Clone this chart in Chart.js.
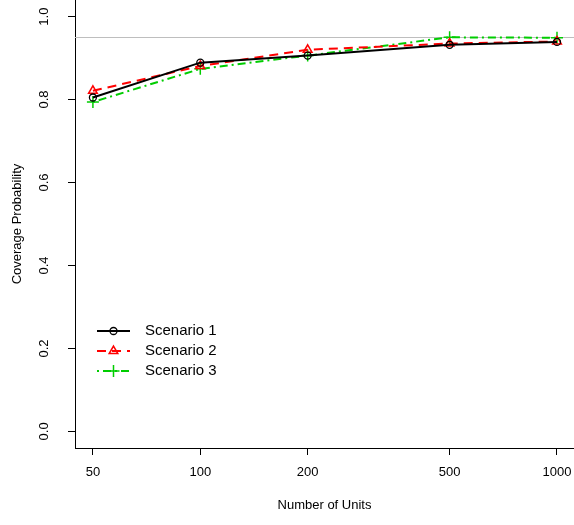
<!DOCTYPE html>
<html lang="en">
<head>
  <meta charset="UTF-8">
  <title>Coverage Probability by Number of Units</title>
  <script src="https://cdn.jsdelivr.net/npm/chart.js"></script>
  <style>
    body { margin: 0; background: #fff; }
  </style>
</head>
<body>
  <canvas id="coverage" width="574" height="525"></canvas>

  <script>
    const units = [50, 100, 200, 500, 1000];
    const scenario1 = [0.805, 0.889, 0.906, 0.932, 0.939];
    const scenario2 = [0.821, 0.881, 0.920, 0.935, 0.940];
    const scenario3 = [0.794, 0.874, 0.906, 0.950, 0.949];
    const yTicks = [0, 0.2, 0.4, 0.6, 0.8, 1.0];
    const nominal = 0.95;

    const FONT = "'Liberation Sans', Arial, sans-serif";

    const toPoints = vals => vals.map((v, i) => ({ x: units[i], y: v }));

    // gray reference line at the nominal level
    const nominalLine = {
      id: 'nominalLine',
      beforeDatasetsDraw(chart) {
        const { ctx, chartArea } = chart;
        const y = Math.round(chart.scales.y.getPixelForValue(nominal)) + 0.5;
        ctx.save();
        ctx.strokeStyle = '#bebebe';
        ctx.lineWidth = 1;
        ctx.beginPath();
        ctx.moveTo(chartArea.left, y);
        ctx.lineTo(chartArea.right, y);
        ctx.stroke();
        ctx.restore();
      }
    };

    // y tick labels, rotated like base R axis text
    const yLabels = {
      id: 'yLabels',
      afterDraw(chart) {
        const { ctx } = chart;
        const ys = chart.scales.y;
        ctx.save();
        ctx.fillStyle = '#000';
        ctx.font = '13px ' + FONT;
        ctx.textAlign = 'center';
        ctx.textBaseline = 'middle';
        yTicks.forEach(t => {
          ctx.save();
          ctx.translate(44, ys.getPixelForValue(t));
          ctx.rotate(-Math.PI / 2);
          ctx.fillText(t.toFixed(1), 0, 0);
          ctx.restore();
        });
        ctx.restore();
      }
    };

    // legend with line segment + marker, no box
    const lineLegend = {
      id: 'lineLegend',
      afterDraw(chart) {
        const { ctx } = chart;
        const x0 = 97, x1 = 130, tx = 145, top = 331, step = 20;
        chart.data.datasets.forEach((ds, i) => {
          const y = top + i * step;
          ctx.save();
          ctx.strokeStyle = ds.borderColor;
          ctx.lineWidth = ds.borderWidth;
          ctx.setLineDash(ds.borderDash || []);
          ctx.beginPath();
          ctx.moveTo(x0, y);
          ctx.lineTo(x1, y);
          ctx.stroke();
          ctx.setLineDash([]);
          ctx.strokeStyle = ds.pointBorderColor;
          ctx.fillStyle = ds.pointBackgroundColor;
          ctx.lineWidth = ds.pointBorderWidth;
          Chart.helpers.drawPoint(ctx, {
            pointStyle: ds.pointStyle,
            radius: ds.pointRadius,
            borderWidth: ds.pointBorderWidth,
            rotation: 0
          }, (x0 + x1) / 2, y);
          ctx.fillStyle = '#000';
          ctx.font = '15px ' + FONT;
          ctx.textAlign = 'left';
          ctx.textBaseline = 'middle';
          ctx.fillText(ds.label, tx, y);
          ctx.restore();
        });
      }
    };

    new Chart(document.getElementById('coverage'), {
      type: 'line',
      data: {
        datasets: [
          {
            label: 'Scenario 1',
            data: toPoints(scenario1),
            borderColor: '#000000',
            borderWidth: 2,
            pointStyle: 'circle',
            pointRadius: 3.5,
            pointBorderColor: '#000000',
            pointBackgroundColor: 'rgba(0,0,0,0)',
            pointBorderWidth: 1.3
          },
          {
            label: 'Scenario 2',
            data: toPoints(scenario2),
            borderColor: '#ff0000',
            borderWidth: 2,
            borderDash: [9, 6],
            pointStyle: 'triangle',
            pointRadius: 5,
            pointBorderColor: '#ff0000',
            pointBackgroundColor: 'rgba(0,0,0,0)',
            pointBorderWidth: 1.5
          },
          {
            label: 'Scenario 3',
            data: toPoints(scenario3),
            borderColor: '#00cd00',
            borderWidth: 2,
            borderDash: [2, 4, 8, 4],
            pointStyle: 'cross',
            pointRadius: 6,
            pointBorderColor: '#00cd00',
            pointBackgroundColor: 'rgba(0,0,0,0)',
            pointBorderWidth: 1.5
          }
        ]
      },
      options: {
        responsive: false,
        animation: false,
        devicePixelRatio: 1,
        layout: { padding: 0, autoPadding: false },
        elements: { line: { tension: 0 } },
        plugins: {
          legend: { display: false },
          tooltip: { enabled: false }
        },
        scales: {
          x: {
            type: 'logarithmic',
            min: 44.54,
            max: 1116,
            afterBuildTicks: scale => { scale.ticks = units.map(v => ({ value: v })); },
            afterFit: scale => {
              scale.height = 77;
              scale.paddingLeft = 0;
              scale.paddingRight = 0;
            },
            ticks: {
              autoSkip: false,
              maxRotation: 0,
              padding: 10,
              color: '#000',
              font: { family: FONT, size: 13 },
              callback: v => String(v)
            },
            grid: {
              drawOnChartArea: false,
              drawTicks: true,
              tickLength: 7,
              color: '#000',
              lineWidth: 1
            },
            border: { display: true, color: '#000', width: 1 },
            title: {
              display: true,
              text: 'Number of Units',
              color: '#000',
              font: { family: FONT, size: 13 },
              padding: { top: 0, bottom: 12 }
            }
          },
          y: {
            type: 'linear',
            min: -0.04,
            max: 1.04,
            afterBuildTicks: scale => { scale.ticks = yTicks.map(v => ({ value: v })); },
            afterFit: scale => {
              scale.width = 75;
              scale.paddingTop = 0;
              scale.paddingBottom = 0;
            },
            ticks: { display: false },
            grid: {
              drawOnChartArea: false,
              drawTicks: true,
              tickLength: 7,
              color: '#000',
              lineWidth: 1
            },
            border: { display: true, color: '#000', width: 1 },
            title: {
              display: true,
              text: 'Coverage Probability',
              color: '#000',
              font: { family: FONT, size: 13 },
              padding: { top: 10, bottom: 0 }
            }
          }
        }
      },
      plugins: [nominalLine, yLabels, lineLegend]
    });
  </script>
</body>
</html>
